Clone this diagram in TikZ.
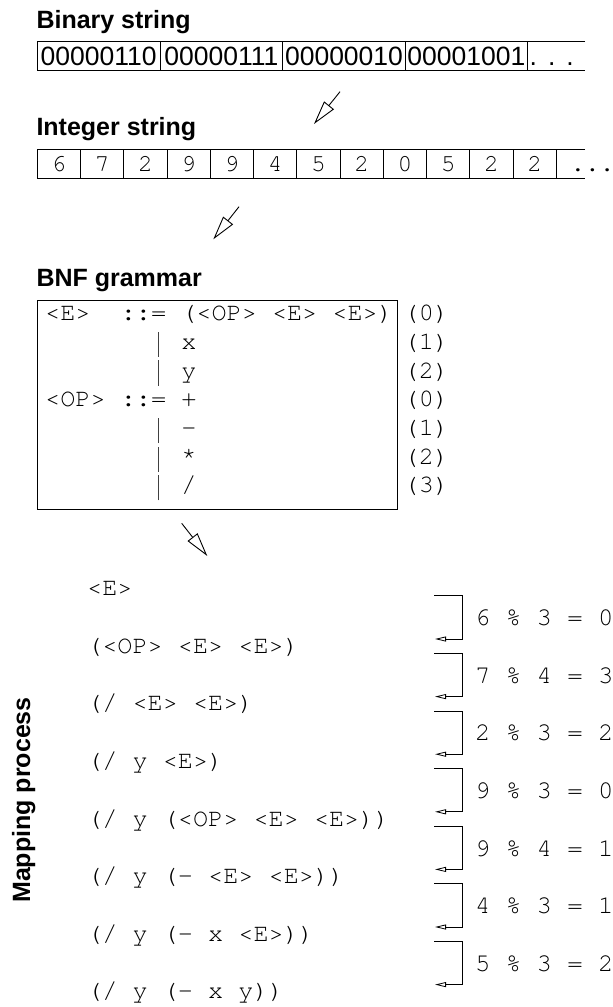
\documentclass[tikz,border=0pt]{standalone}
\usepackage{fontspec}
\setmainfont{Liberation Sans}
\newfontfamily\codefont{TeX Gyre Cursor}
\usepackage{tikz}
\usetikzlibrary{arrows.meta}

\newcommand\grammarbar{\makebox[0.6em]{\textcolor{black!75}{\rule[-0.3em]{0.9pt}{1.0em}}}}

\begin{document}
\begin{tikzpicture}[x=1pt, y=-1pt,
    heading/.style={font=\fontsize{25}{25}\selectfont\bfseries, anchor=base west, inner sep=0pt},
    bits/.style={font=\fontsize{26.5}{26.5}\selectfont, anchor=base, inner sep=0pt},
    code/.style={font=\codefont\fontsize{25.2}{25.2}\selectfont, anchor=base west, inner sep=0pt},
    cell/.style={line width=0.9pt},
    flow/.style={line width=0.9pt, -{Triangle[open, length=24pt, width=12.5pt]}},
    modstep/.style={line width=0.8pt, -{Triangle[open, length=11pt, width=5pt]}}
    ]

    \useasboundingbox (0,0) rectangle (613,1007);

    \node[heading] (binhead) at (36.3, 28) {Binary string};
    \draw[cell] (585, 41.7) -- (37.3, 41.7) -- (37.3, 70) -- (585, 70);
    \foreach \x in {160, 282.7, 405, 527.7}
        \draw[cell] (\x, 41.7) -- (\x, 70);
    \node[bits] (bin1) at (98.7, 65) {00000110};
    \node[bits] (bin2) at (221.4, 65) {00000111};
    \node[bits] (bin3) at (344, 65) {00000010};
    \node[bits] (bin4) at (466.4, 65) {00001001};
    \node[bits, anchor=base west] (bindots) at (529.5, 65) {.\kern11pt.\kern11pt.};

    \coordinate (flow1s) at (340, 91.7);
    \coordinate (flow1e) at (314, 124);
    \draw[flow] (flow1s) -- (flow1e);

    \node[heading] (inthead) at (36.3, 135) {Integer string};
    \draw[cell] (585, 149.3) -- (37.3, 149.3) -- (37.3, 178.3) -- (585, 178.3);
    \foreach \i in {1,...,12}
        \draw[cell] (37.3+43.25*\i, 149.3) -- (37.3+43.25*\i, 178.3);
    \foreach \d [count=\i from 0] in {6,7,2,9,9,4,5,2,0,5,2,2}
        \node[code, anchor=base, font=\codefont\fontsize{24.5}{24.5}\selectfont] (int\i) at (58.9+43.25*\i, 171.7) {\d};
    \node[code, font=\codefont\fontsize{24.5}{24.5}\selectfont] (intdots) at (570.3, 171.7) {...};

    \coordinate (flow2s) at (239, 206.7);
    \coordinate (flow2e) at (213.3, 239.3);
    \draw[flow] (flow2s) -- (flow2e);

    \node[heading] (bnfhead) at (36.3, 286) {BNF grammar};
    \draw[cell] (37.3, 300.7) rectangle (397.7, 509.3);
    \foreach \prodline/\num [count=\i from 0] in {
        {<E>~~::=~(<OP>~<E>~<E>)}/0,
        {~~~~~~~\grammarbar~x}/1,
        {~~~~~~~\grammarbar~y}/2,
        {<OP>~::=~+}/0,
        {~~~~~~~\grammarbar~-}/1,
        {~~~~~~~\grammarbar~*}/2,
        {~~~~~~~\grammarbar~/}/3}
    {
        \node[code] (prod\i) at (45, 320.7+28.7*\i) {\prodline};
        \node[code] (choice\i) at (403.5, 320.7+28.7*\i) {(\num)};
    }

    \coordinate (flow3s) at (181.7, 523.3);
    \coordinate (flow3e) at (207.3, 556);
    \draw[flow] (flow3s) -- (flow3e);

    \node[heading, rotate=90, anchor=base] (maphead) at (30, 800) {Mapping process};
    \foreach \form [count=\i from 0] in {
        {<E>},
        {(<OP>~<E>~<E>)},
        {(/~<E>~<E>)},
        {(/~y~<E>)},
        {(/~y~(<OP>~<E>~<E>))},
        {(/~y~(-~<E>~<E>))},
        {(/~y~(-~x~<E>))},
        {(/~y~(-~x~y))}}
        \node[code] (form\i) at (87, 595.7+57.6*\i) {\form};

    \foreach \a/\b/\r [count=\i from 0] in {6/3/0, 7/4/3, 2/3/2, 9/3/0, 9/4/1, 4/3/1, 5/3/2}
    {
        \node[code, font=\codefont\fontsize{25.6}{25.6}\selectfont] (mod\i) at (475, 625.7+57.6*\i) {\a~\%~\b~=~\r};
        \coordinate (modin\i) at (434, 595.7+57.6*\i);
        \coordinate (modout\i) at (435, 639+57.6*\i);
        \draw[modstep] (modin\i) -- ++(28.3, 0) |- (modout\i);
    }

\end{tikzpicture}
\end{document}
